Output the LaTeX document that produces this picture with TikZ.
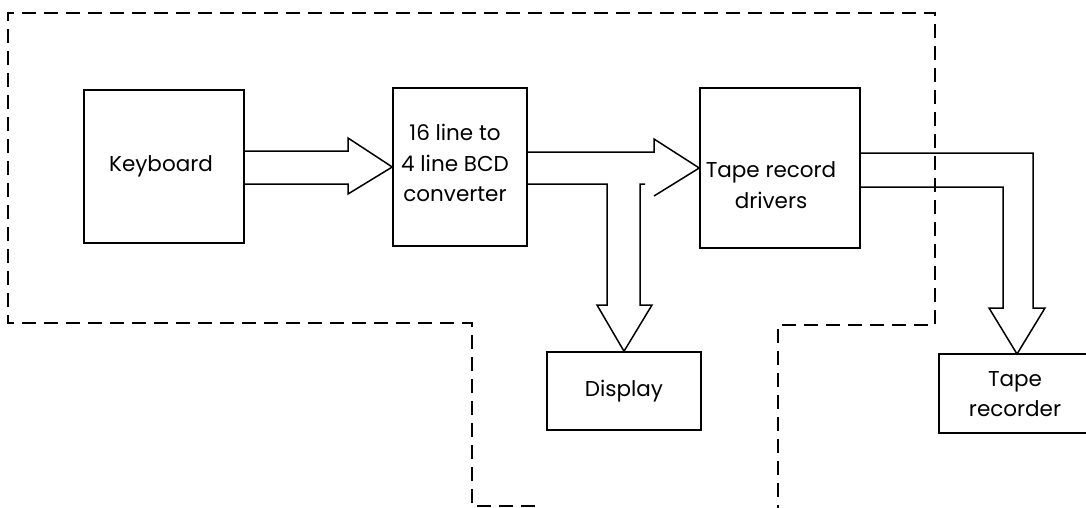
\documentclass[tikz,border=0pt]{standalone}
\usepackage{fontspec}
\setmainfont{Poppins}
\begin{document}
\begin{tikzpicture}[x=1pt,y=-1pt,
  blk/.style={draw,line width=1.5pt,minimum width=#1,inner sep=0pt},
  lbl/.style={inner sep=0pt,align=center,font=\fontsize{21.5}{30.5}\selectfont},
  flow/.style={line width=1.5pt,line join=miter},
  bound/.style={line width=1.4pt,dash pattern=on 14pt off 8pt}]
\useasboundingbox (0,0) rectangle (1086,508);
% boxes
\node[blk=160pt,minimum height=153pt] (kb) at (164,166.5) {};
\node[lbl] (kbl) at (161,166) {Keyboard};
\node[blk=134pt,minimum height=158pt] (conv) at (460,167) {};
\node[lbl] (convl) at (455,163) {16 line to\\4 line BCD\\converter};
\node[blk=160pt,minimum height=160pt] (drv) at (780,168) {};
\node[lbl] (drvl) at (771,185) {Tape record\\drivers};
\node[blk=154pt,minimum height=78pt] (disp) at (624,391) {};
\node[lbl] (displ) at (624,391) {Display};
\node[blk=164pt,minimum height=79pt] (trec) at (1021,393.5) {};
\node[lbl] (trecl) at (1015,394) {Tape\\recorder};
% dashed boundary
\draw[bound] (535,506) -- (472,506) -- (472,323) -- (8,323) -- (8,13) -- (935,13) -- (935,325) -- (778,325) -- (778,512);
% keyboard -> converter
\draw[flow] (kb.east |- 0,151) -- (348,151) -- (348,138) -- (conv.west) -- (348,194) -- (348,184) -- (kb.east |- 0,184);
% converter -> drivers
\draw[flow] (conv.east |- 0,152) -- (654,152) -- (654,139) -- (drv.west) -- (654,196);
% converter -> display
\draw[flow] (645,184) -- (640,184) -- (640,305) -- (652,305) -- (disp.north) -- (597,305) -- (607,305) -- (607,184) -- (conv.east |- 0,184);
% drivers -> tape recorder
\draw[flow] (drv.east |- 0,153) -- (1033,153) -- (1033,308) -- (1045,308) -- (1017,354) -- (989,308) -- (1003,308) -- (1003,187) -- (drv.east |- 0,187);
\end{tikzpicture}
\end{document}
